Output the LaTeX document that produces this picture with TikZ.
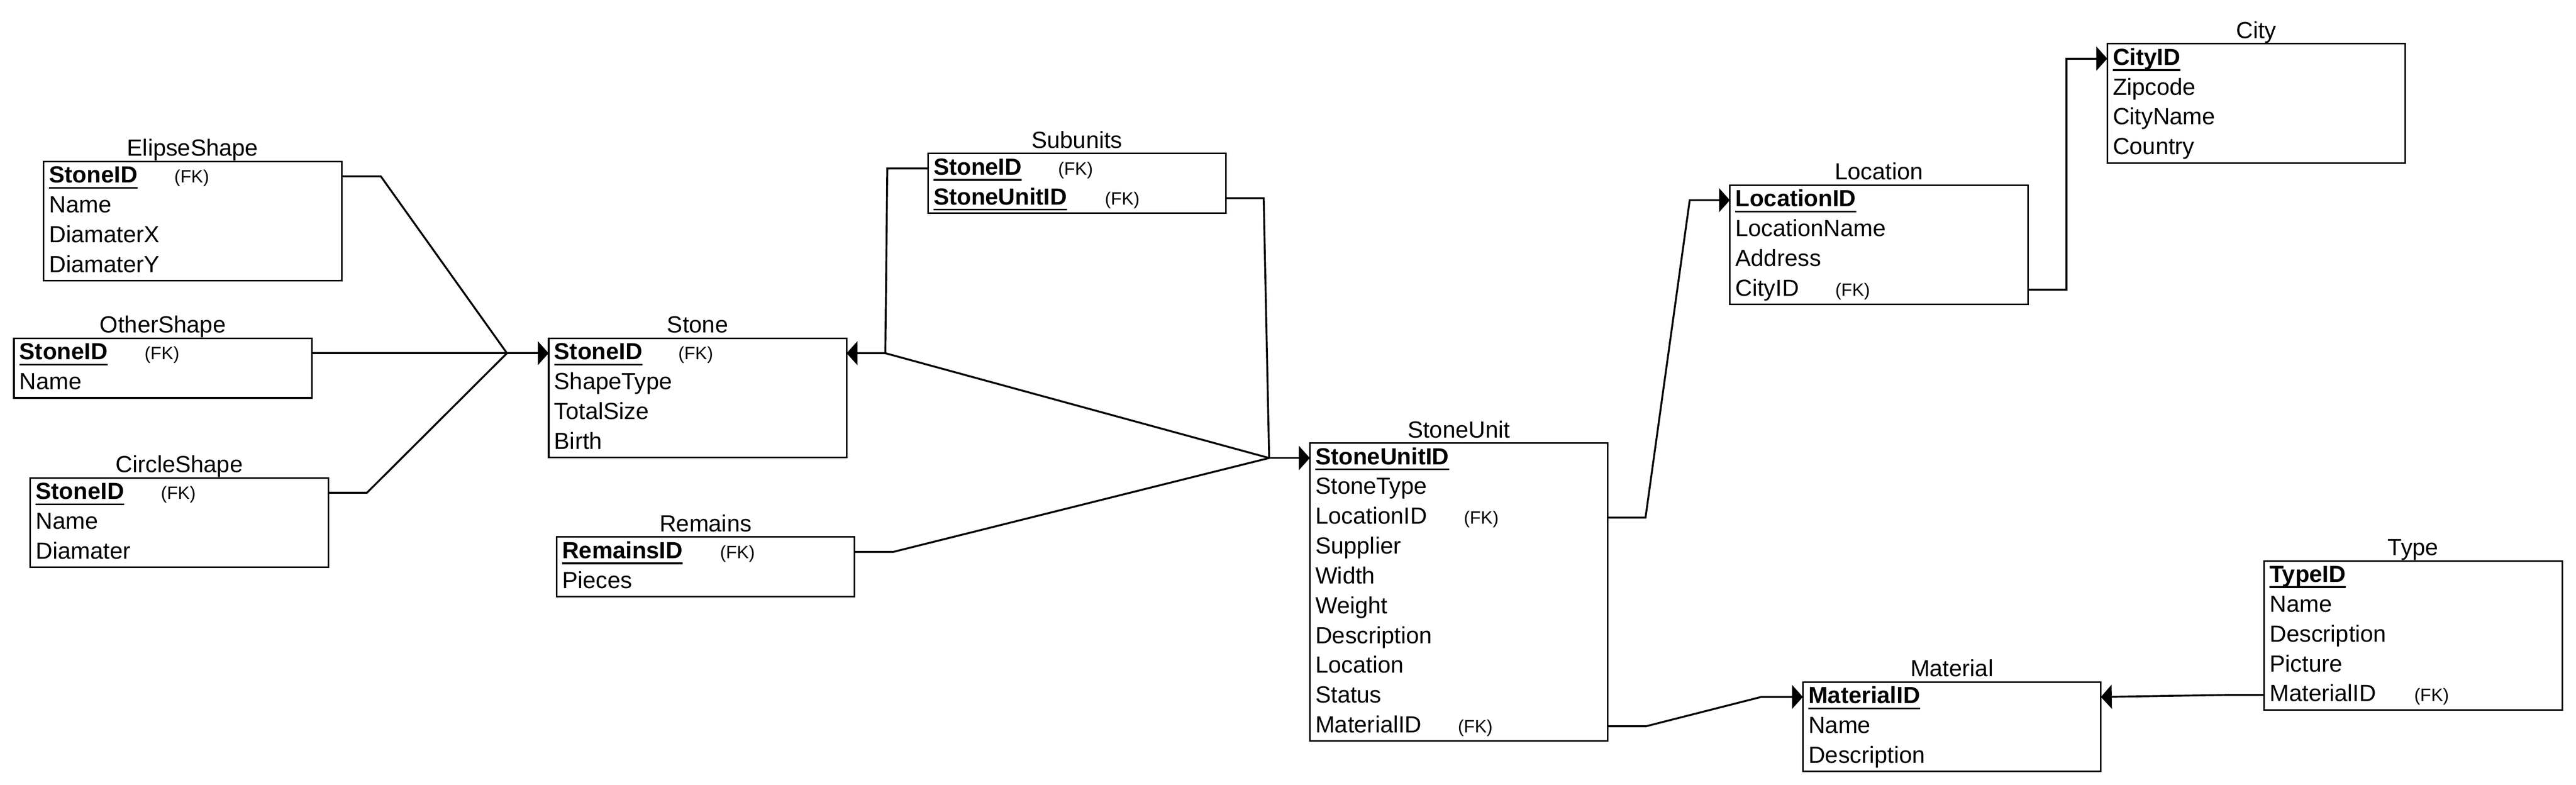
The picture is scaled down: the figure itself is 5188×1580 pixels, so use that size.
\documentclass[tikz,border=0pt]{standalone}
\usepackage{fontspec}
\setmainfont{Liberation Sans}
\usetikzlibrary{arrows.meta,calc}
\tikzset{
 tbl/.style={draw, line width=3.2pt, rectangle, minimum width=600pt, inner sep=0pt, outer sep=0pt},
 ttl/.style={font=\fontsize{47}{56}\selectfont, anchor=base, inner sep=0pt},
 fld/.style={font=\fontsize{47}{56}\selectfont, anchor=base west, inner sep=0pt},
 pk/.style={fld, font=\fontsize{47}{56}\selectfont\bfseries},
 fkl/.style={font=\fontsize{36}{42}\selectfont, anchor=base west, inner sep=0pt},
 uline/.style={line width=3.5pt},
 conn/.style={line width=3.8pt, line join=miter},
 arr/.style={conn, -{Triangle[length=22pt,width=48pt]}},
}
\newcommand{\ertable}[5]{%
 \node[tbl, anchor=north west, minimum height=#4*60pt] (#1) at (#2,#3) {};
 \node[ttl] (#1-title) at ($(#1.north)+(0,-11)$) {#5};}
\newcommand{\erfield}[3]{\node[fld] (#1-f#2) at ($(#1.north west)+(11,60*#2-17)$) {#3};}
\newcommand{\erkey}[3]{\node[pk] (#1-f#2) at ($(#1.north west)+(11,60*#2-17)$) {#3};
 \draw[uline] ([yshift=-10pt]#1-f#2.base west) -- ([yshift=-10pt]#1-f#2.base east);}
\newcommand{\erfk}[3]{\node[fkl] (#1-k#2) at ($(#1.north west)+(#3,60*#2-17)$) {(FK)};}
\newcommand{\erports}[2]{\coordinate (#1-w#2) at ($(#1.north west)+(0,60*#2-30)$);
 \coordinate (#1-e#2) at ($(#1.north east)+(0,60*#2-30)$);}
\begin{document}
\begin{tikzpicture}[x=1pt,y=-1pt]
\useasboundingbox (0,0) rectangle (5188,1580);

% ElipseShape
\ertable{elipse}{88}{325}{4}{ElipseShape}
\erkey{elipse}{1}{StoneID}\erfk{elipse}{1}{263}
\erfield{elipse}{2}{Name}
\erfield{elipse}{3}{DiamaterX}
\erfield{elipse}{4}{DiamaterY}
\erports{elipse}{1}

% OtherShape
\ertable{other}{28}{681}{2}{OtherShape}
\erkey{other}{1}{StoneID}\erfk{other}{1}{263}
\erfield{other}{2}{Name}
\erports{other}{1}

% CircleShape
\ertable{circle}{61}{962}{3}{CircleShape}
\erkey{circle}{1}{StoneID}\erfk{circle}{1}{263}
\erfield{circle}{2}{Name}
\erfield{circle}{3}{Diamater}
\erports{circle}{1}

% Stone
\ertable{stone}{1105}{681}{4}{Stone}
\erkey{stone}{1}{StoneID}\erfk{stone}{1}{261}
\erfield{stone}{2}{ShapeType}
\erfield{stone}{3}{TotalSize}
\erfield{stone}{4}{Birth}
\erports{stone}{1}

% Remains
\ertable{remains}{1121}{1081}{2}{Remains}
\erkey{remains}{1}{RemainsID}\erfk{remains}{1}{329}
\erfield{remains}{2}{Pieces}
\erports{remains}{1}

% Subunits
\ertable{sub}{1869}{309}{2}{Subunits}
\erkey{sub}{1}{StoneID}\erfk{sub}{1}{262}
\erkey{sub}{2}{StoneUnitID}\erfk{sub}{2}{356}
\erports{sub}{1}\erports{sub}{2}

% StoneUnit
\ertable{unit}{2638}{892}{10}{StoneUnit}
\erkey{unit}{1}{StoneUnitID}
\erfield{unit}{2}{StoneType}
\erfield{unit}{3}{LocationID}\erfk{unit}{3}{310}
\erfield{unit}{4}{Supplier}
\erfield{unit}{5}{Width}
\erfield{unit}{6}{Weight}
\erfield{unit}{7}{Description}
\erfield{unit}{8}{Location}
\erfield{unit}{9}{Status}
\erfield{unit}{10}{MaterialID}\erfk{unit}{10}{298}
\erports{unit}{1}\erports{unit}{3}\erports{unit}{10}

% Location
\ertable{loc}{3484}{373}{4}{Location}
\erkey{loc}{1}{LocationID}
\erfield{loc}{2}{LocationName}
\erfield{loc}{3}{Address}
\erfield{loc}{4}{CityID}\erfk{loc}{4}{212}
\erports{loc}{1}\erports{loc}{4}

% City
\ertable{city}{4244}{88}{4}{City}
\erkey{city}{1}{CityID}
\erfield{city}{2}{Zipcode}
\erfield{city}{3}{CityName}
\erfield{city}{4}{Country}
\erports{city}{1}

% Material
\ertable{mat}{3631}{1373}{3}{Material}
\erkey{mat}{1}{MaterialID}
\erfield{mat}{2}{Name}
\erfield{mat}{3}{Description}
\erports{mat}{1}

% Type
\ertable{type}{4560}{1129}{5}{Type}
\erkey{type}{1}{TypeID}
\erfield{type}{2}{Name}
\erfield{type}{3}{Description}
\erfield{type}{4}{Picture}
\erfield{type}{5}{MaterialID}\erfk{type}{5}{302}
\erports{type}{5}

% junctions
\coordinate (j1) at (1021,711);
\coordinate (j2) at (1783,711);
\coordinate (j3) at (2556,922);

% connectors
\draw[conn] (elipse-e1) -- (767,355) -- (j1);
\draw[conn] (other-e1) -- (j1);
\draw[conn] (circle-e1) -- (739,992) -- (j1);
\draw[arr] (j1) -- (stone-w1);

\draw[arr] (sub-w1) -- (1787,339) -- (j2) -- (stone-e1);
\draw[conn] (j2) -- (j3);
\draw[conn] (sub-e2) -- (2545,399) -- (j3);
\draw[conn] (remains-e1) -- (1799,1111) -- (j3);
\draw[arr] (j3) -- (unit-w1);

\draw[arr] (unit-e3) -- (3314,1042) -- (3403,403) -- (loc-w1);
\draw[arr] (loc-e4) -- (4162,583) -- (4162,118) -- (city-w1);
\draw[arr] (unit-e10) -- (3315,1462) -- (3547,1403) -- (mat-w1);
\draw[arr] (type-w5) -- (4481,1399) -- (mat-e1);
\end{tikzpicture}
\end{document}
